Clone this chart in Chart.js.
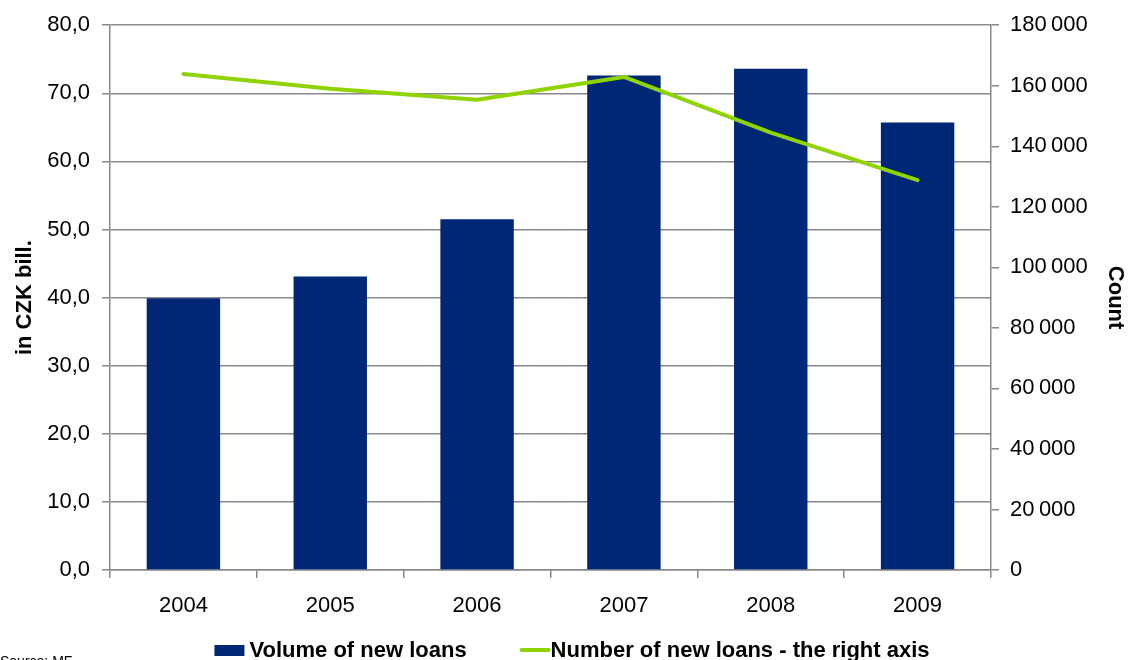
<!DOCTYPE html>
<html>
<head>
<meta charset="utf-8">
<script src="https://cdn.jsdelivr.net/npm/chart.js"></script>
<style>
  html, body { margin: 0; padding: 0; background: #fff; }
  #wrap { position: relative; width: 1128px; height: 660px; }
</style>
</head>
<body>
<div id="wrap"><canvas id="myChart"></canvas></div>
<script>
// data
const years = ['2004', '2005', '2006', '2007', '2008', '2009'];
const volume = [39.9, 43.1, 51.5, 72.6, 73.6, 65.7];       // in CZK bill.
const count = [163900, 159000, 155400, 162900, 144500, 128800];

const gray = '#898989';
const font = 'Liberation Sans, Arial, sans-serif';

// legend drawn by hand so box/text spacing looks like the original
const bottomLegend = {
  id: 'bottomLegend',
  afterDraw(chart) {
    const c = chart.ctx;
    const ds = chart.data.datasets;
    const bar = ds[1], line = ds[0];
    c.save();
    c.font = 'bold 22px ' + font;
    c.textBaseline = 'middle';
    c.fillStyle = '#000';
    const w1 = c.measureText(bar.label).width;
    const w2 = c.measureText(line.label).width;
    const total = 30 + 5 + w1 + 55 + 27 + 2 + w2;
    let x = chart.width / 2 + 8 - total / 2;
    const y = 650;
    c.fillStyle = bar.backgroundColor;
    c.fillRect(x, y - 5, 30, 11);
    x += 35;
    c.fillStyle = '#000';
    c.fillText(bar.label, x, y + 1);
    x += w1 + 55;
    c.strokeStyle = line.borderColor;
    c.lineWidth = 4;
    c.lineCap = 'round';
    c.beginPath();
    c.moveTo(x, y);
    c.lineTo(x + 27, y);
    c.stroke();
    x += 29;
    c.fillText(line.label, x, y + 1);

    // source note, cut by the bottom edge
    c.font = '14px ' + font;
    c.textBaseline = 'alphabetic';
    c.fillText('Source: MF', 0, 666);
    c.restore();
  }
};

const ctx = document.getElementById('myChart').getContext('2d');
new Chart(ctx, {
  data: {
    labels: years,
    datasets: [
      {
        type: 'line',
        label: 'Number of new loans - the right axis',
        data: count,
        yAxisID: 'y2',
        borderColor: '#8fd400',
        backgroundColor: '#8fd400',
        borderWidth: 4,
        borderCapStyle: 'round',
        borderJoinStyle: 'round',
        pointRadius: 0,
        tension: 0,
        order: 0
      },
      {
        type: 'bar',
        label: 'Volume of new loans',
        data: volume,
        yAxisID: 'y',
        backgroundColor: '#002776',
        borderWidth: 0,
        categoryPercentage: 1,
        barPercentage: 0.5,
        order: 1
      }
    ]
  },
  options: {
    responsive: true,
    maintainAspectRatio: false,
    animation: false,
    layout: { padding: { top: 20, left: 0, right: 0, bottom: 40 } },
    plugins: {
      tooltip: { enabled: false },
      legend: { display: false }
    },
    scales: {
      x: {
        offset: true,
        afterFit: s => { s.height = 50; },
        grid: {
          offset: true,
          drawOnChartArea: false,
          tickLength: 8,
          color: gray,
          lineWidth: 1.5
        },
        border: { color: gray, width: 1.5 },
        ticks: { color: '#000', padding: 15, font: { family: font, size: 22 } }
      },
      y: {
        position: 'left',
        min: 0,
        max: 80,
        afterFit: s => { s.width = 110; },
        ticks: {
          stepSize: 10,
          color: '#000',
          padding: 12,
          font: { family: font, size: 22 },
          callback: v => v.toFixed(1).replace('.', ',')
        },
        grid: { color: gray, tickLength: 8, lineWidth: 1.5 },
        border: { color: gray, width: 1.5 },
        title: {
          display: true,
          text: 'in CZK bill.',
          color: '#000',
          padding: { top: 12, bottom: 0 },
          font: { family: font, size: 22, weight: 'bold' }
        }
      },
      y2: {
        position: 'right',
        min: 0,
        max: 180000,
        afterFit: s => { s.width = 137; },
        ticks: {
          stepSize: 20000,
          color: '#000',
          padding: 11,
          font: { family: font, size: 22 },
          callback: v => v === 0 ? '0' : String(v).replace(/\B(?=(\d{3})+(?!\d))/g, '\u2009')
        },
        grid: { drawOnChartArea: false, color: gray, tickLength: 8, lineWidth: 1.5 },
        border: { color: gray, width: 1.5 },
        title: {
          display: true,
          text: 'Count',
          color: '#000',
          padding: { top: 0, bottom: 0 },
          font: { family: font, size: 22, weight: 'bold' }
        }
      }
    }
  },
  plugins: [bottomLegend]
});
</script>
</body>
</html>
